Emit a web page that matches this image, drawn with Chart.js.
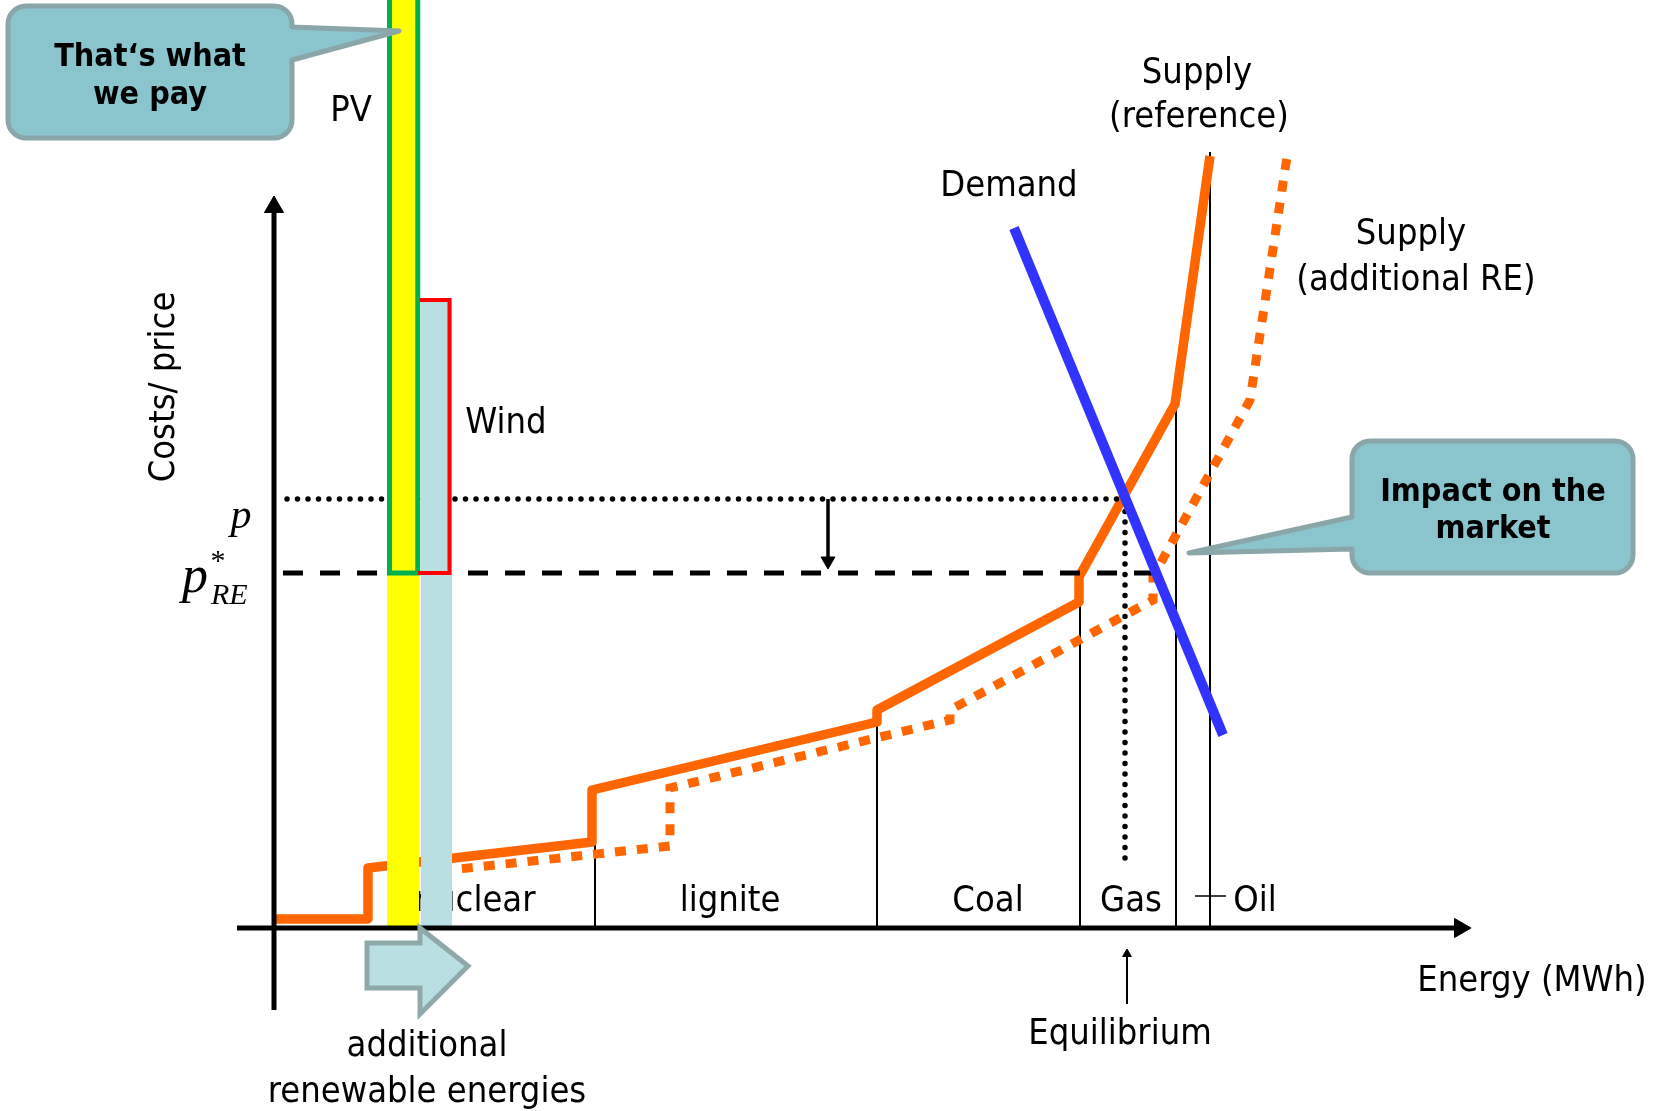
<!DOCTYPE html>
<html>
<head>
<meta charset="utf-8">
<script src="https://cdn.jsdelivr.net/npm/chart.js@4/dist/chart.umd.min.js"></script>
<style>
  html, body { margin: 0; padding: 0; background: #ffffff; }
  #wrap { width: 1654px; height: 1111px; }
</style>
</head>
<body>
<div id="wrap"><canvas id="chart" width="1654" height="1111"></canvas></div>
<script>
// ---- Merit-order data (energy on x, cost/price on y, arbitrary units) ----
const supplyRefX = [0, 9.4, 9.4, 31.8, 31.8, 60.3, 60.3, 80.5, 80.5, 90.1, 93.6];
const supplyRefY = [0.9, 0.9, 6.0, 8.6, 13.8, 20.6, 21.8, 32.6, 35.1, 52.4, 77.2];
const supplyReX = [16.6, 39.6, 39.6, 67.6, 67.6, 87.9, 87.9, 97.6, 101.3];
const supplyReY = [5.7, 8.2, 14.0, 20.8, 21.8, 32.8, 35.1, 52.8, 77.1];
const demandX = [74.0, 94.9];
const demandY = [70.0, 19.3];

const priceRef = 42.9;      // p
const priceRe = 35.5;       // p*_RE
const equilibriumX = 85.1;  // reference equilibrium quantity
const equilibriumReX = 88.3;

const technologies = ['nuclear', 'lignite', 'Coal', 'Gas', 'Oil'];
const techEdgeX = [32.1, 60.3, 80.6, 90.2, 93.6];
const techEdgeTop = [13.8, 20.6, 32.6, 52.4, 77.6];

const renewables = ['PV', 'Wind'];
const reFromX = [11.3, 14.7];
const reToX = [14.5, 17.8];
const reCost = [95, 62.8];

// axis extents
const xAxisFrom = -3.7, xAxisTo = 119.7;
const yAxisFrom = -8.2, yAxisTo = 73.2;

// ---- colours ----
const ORANGE = '#ff6600';
const BLUE = '#3333ff';
const PV_FILL = '#ffff00';
const WIND_FILL = '#b9dfe2';
const CALLOUT_FILL = '#8ac5cd';
const CALLOUT_EDGE = '#8ba6a9';
const SANS = "'DejaVu Sans Condensed', 'DejaVu Sans', sans-serif";
const SERIF = "'Liberation Serif', 'DejaVu Serif', serif";

const pts = (xs, ys) => xs.map((x, i) => ({ x, y: ys[i] }));
const INSET = 0.25; // keeps the cost outlines inside their bars

function line(data, color, width, extra) {
  return Object.assign({
    data, showLine: true, borderColor: color, borderWidth: width,
    pointRadius: 0, pointHoverRadius: 0, fill: false, tension: 0
  }, extra || {});
}
function arrowLine(data, color, width, headRadius, rotation) {
  return line(data, color, width, {
    pointRadius: data.map((_, i) => i === data.length - 1 ? headRadius : 0),
    pointStyle: 'triangle', pointRotation: rotation,
    pointBackgroundColor: color, pointBorderColor: color, pointBorderWidth: 1
  });
}

// listed bottom-most first
const layers = [];
// technology boundaries
techEdgeX.forEach((x, i) => {
  layers.push(line([{ x, y: 0 }, { x, y: techEdgeTop[i] }], '#000000', 2));
});
// supply curves
layers.push(line(pts(supplyReX, supplyReY), ORANGE, 9, { borderDash: [11, 11], borderJoinStyle: 'miter' }));
layers.push(line(pts(supplyRefX, supplyRefY), ORANGE, 9.5, { borderJoinStyle: 'round' }));
// price levels
layers.push(line([{ x: 1.3, y: priceRef }, { x: equilibriumX, y: priceRef }, { x: equilibriumX, y: 6.3 }],
  '#000000', 5.5, { borderDash: [0, 10.5], borderCapStyle: 'round' }));
layers.push(line([{ x: 0.9, y: priceRe }, { x: equilibriumReX, y: priceRe }], '#000000', 5, { borderDash: [20, 17] }));
// renewable bars (cover the curves underneath)
renewables.forEach((name, i) => {
  layers.push(line([{ x: reFromX[i], y: reCost[i] }, { x: reToX[i], y: reCost[i] }],
    i === 0 ? PV_FILL : WIND_FILL, 0, { fill: 'origin', backgroundColor: i === 0 ? PV_FILL : WIND_FILL }));
});
// part of the renewable cost above p*_RE
layers.push(line([
  { x: reFromX[0] + INSET, y: reCost[0] }, { x: reFromX[0] + INSET, y: priceRe },
  { x: reToX[0] - INSET / 2, y: priceRe }, { x: reToX[0] - INSET / 2, y: reCost[0] }
], '#00b050', 5, { borderJoinStyle: 'miter' }));
layers.push(line([
  { x: reToX[0] - INSET / 2, y: priceRe }, { x: reToX[1] - INSET, y: priceRe },
  { x: reToX[1] - INSET, y: reCost[1] }, { x: reFromX[1] - INSET / 2, y: reCost[1] }
], '#ff0000', 4, { borderJoinStyle: 'miter' }));
// demand
layers.push(line(pts(demandX, demandY), BLUE, 10));
// price drop arrow
layers.push(arrowLine([{ x: 55.4, y: priceRef }, { x: 55.4, y: priceRe + 1.2 }], '#000000', 3.5, 8, 180));
// axes
layers.push(arrowLine([{ x: xAxisFrom, y: 0 }, { x: xAxisTo - 1.1, y: 0 }], '#000000', 5, 11, 90));
layers.push(arrowLine([{ x: 0, y: yAxisFrom }, { x: 0, y: yAxisTo - 1.1 }], '#000000', 5, 11, 0));
// equilibrium pointer and oil leader
layers.push(arrowLine([{ x: 85.3, y: -7.6 }, { x: 85.3, y: -2.6 }], '#000000', 2, 5, 0));
layers.push(line([{ x: 92.1, y: 3.2 }, { x: 95.2, y: 3.2 }], '#000000', 1.5));

layers.forEach((ds, i) => { ds.order = layers.length - i; });

// ---- text and callouts ----
const labels = [
  { t: 'PV', x: 7.7, y: 81.6 },
  { t: 'Wind', x: 23.2, y: 50.4 },
  { t: 'Demand', x: 73.5, y: 74.1 },
  { t: 'Supply', x: 92.3, y: 85.4 },
  { t: '(reference)', x: 92.5, y: 81.0 },
  { t: 'Supply', x: 113.7, y: 69.3 },
  { t: '(additional RE)', x: 114.2, y: 64.7 },
  { t: 'lignite', x: 45.6, y: 2.6 },
  { t: 'Coal', x: 71.4, y: 2.6 },
  { t: 'Gas', x: 85.7, y: 2.6 },
  { t: 'Oil', x: 98.1, y: 2.6 },
  { t: 'Energy (MWh)', x: 125.8, y: -5.4 },
  { t: 'Equilibrium', x: 84.6, y: -10.7 },
  { t: 'additional', x: 15.3, y: -11.9 },
  { t: 'renewable energies', x: 15.3, y: -16.5 }
];
const underLabels = [{ t: technologies[0], x: 20.1, y: 2.6 }];

const callouts = [
  { box: [-26.6, 92.2, 1.8, 79.0], side: 'right', tail: [90.1, 86.8], tip: [12.5, 89.7],
    lines: [{ t: 'That‘s what', x: -12.4, y: 87.0 }, { t: 'we pay', x: -12.4, y: 83.2 }] },
  { box: [107.8, 48.7, 135.9, 35.5], side: 'left', tail: [41.1, 37.9], tip: [91.5, 37.5],
    lines: [{ t: 'Impact on the', x: 121.9, y: 43.5 }, { t: 'market', x: 121.9, y: 39.8 }] }
];

const LABEL_FONT = '36px ' + SANS;

const overlay = {
  id: 'overlay',
  beforeDatasetsDraw(chart) {
    const { ctx, scales: { x: sx, y: sy } } = chart;
    ctx.save();
    ctx.fillStyle = '#000';
    ctx.font = LABEL_FONT;
    ctx.textAlign = 'center';
    ctx.textBaseline = 'middle';
    underLabels.forEach(l => ctx.fillText(l.t, sx.getPixelForValue(l.x), sy.getPixelForValue(l.y)));
    ctx.restore();
  },
  afterDatasetsDraw(chart) {
    const { ctx, scales: { x: sx, y: sy } } = chart;
    const X = v => sx.getPixelForValue(v), Y = v => sy.getPixelForValue(v);
    ctx.save();

    // block arrow for the additional renewable energies
    ctx.beginPath();
    ctx.moveTo(X(9.3), Y(-1.5));
    ctx.lineTo(X(14.6), Y(-1.5));
    ctx.lineTo(X(14.6), Y(0.0));
    ctx.lineTo(X(19.4), Y(-3.8));
    ctx.lineTo(X(14.6), Y(-8.6));
    ctx.lineTo(X(14.6), Y(-6.0));
    ctx.lineTo(X(9.3), Y(-6.0));
    ctx.closePath();
    ctx.fillStyle = WIND_FILL;
    ctx.fill();
    ctx.lineWidth = 5;
    ctx.lineJoin = 'miter';
    ctx.strokeStyle = '#8fa9aa';
    ctx.stroke();

    // callout bubbles
    callouts.forEach(c => {
      const x0 = X(c.box[0]), y0 = Y(c.box[1]), x1 = X(c.box[2]), y1 = Y(c.box[3]);
      const r = 18;
      const ta = Y(c.tail[0]), tb = Y(c.tail[1]);
      const tx = X(c.tip[0]), ty = Y(c.tip[1]);
      ctx.beginPath();
      ctx.moveTo(x0 + r, y0);
      ctx.lineTo(x1 - r, y0);
      ctx.arcTo(x1, y0, x1, y0 + r, r);
      if (c.side === 'right') {
        ctx.lineTo(x1, ta);
        ctx.lineTo(tx, ty);
        ctx.lineTo(x1, tb);
      }
      ctx.lineTo(x1, y1 - r);
      ctx.arcTo(x1, y1, x1 - r, y1, r);
      ctx.lineTo(x0 + r, y1);
      ctx.arcTo(x0, y1, x0, y1 - r, r);
      if (c.side === 'left') {
        ctx.lineTo(x0, tb);
        ctx.lineTo(tx, ty);
        ctx.lineTo(x0, ta);
      }
      ctx.lineTo(x0, y0 + r);
      ctx.arcTo(x0, y0, x0 + r, y0, r);
      ctx.closePath();
      ctx.fillStyle = CALLOUT_FILL;
      ctx.fill();
      ctx.lineWidth = 5;
      ctx.lineJoin = 'round';
      ctx.strokeStyle = CALLOUT_EDGE;
      ctx.stroke();
      ctx.fillStyle = '#000';
      ctx.font = 'bold 32px ' + SANS;
      ctx.textAlign = 'center';
      ctx.textBaseline = 'middle';
      c.lines.forEach(l => ctx.fillText(l.t, X(l.x), Y(l.y)));
    });

    // plain labels
    ctx.fillStyle = '#000';
    ctx.font = LABEL_FONT;
    ctx.textAlign = 'center';
    ctx.textBaseline = 'middle';
    labels.forEach(l => ctx.fillText(l.t, X(l.x), Y(l.y)));

    // y-axis title
    ctx.save();
    ctx.translate(X(-10.9), Y(54.1));
    ctx.rotate(-Math.PI / 2);
    ctx.fillText('Costs/ price', 0, 0);
    ctx.restore();

    // price symbols p and p*_RE
    ctx.textBaseline = 'alphabetic';
    ctx.font = 'italic 42px ' + SERIF;
    ctx.fillText('p', X(-3.3), Y(40.0));
    ctx.font = '30px ' + SERIF;
    ctx.fillText('*', X(-5.6), Y(35.8));
    ctx.font = 'italic 52px ' + SERIF;
    ctx.fillText('p', X(-7.9), Y(33.6));
    ctx.textAlign = 'left';
    ctx.font = 'italic 30px ' + SERIF;
    ctx.fillText('RE', X(-6.3), Y(32.4));
    ctx.restore();
  }
};

new Chart(document.getElementById('chart'), {
  type: 'scatter',
  data: { datasets: layers },
  options: {
    responsive: false,
    devicePixelRatio: 1,
    animation: false,
    events: [],
    layout: { padding: 0, autoPadding: false },
    plugins: { legend: { display: false }, tooltip: { enabled: false } },
    scales: {
      x: { type: 'linear', display: false, min: -27.4, max: 138.0 },
      y: { type: 'linear', display: false, min: -18.3, max: 92.8 }
    }
  },
  plugins: [overlay]
});
</script>
</body>
</html>
